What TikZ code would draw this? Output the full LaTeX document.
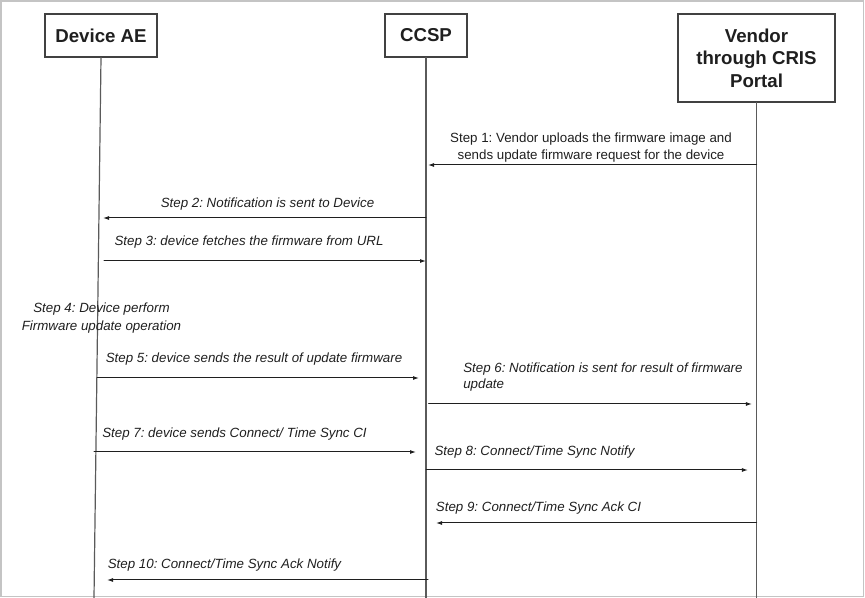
\documentclass[tikz,border=0pt]{standalone}
\usepackage{fontspec}
\setmainfont{Liberation Sans}
\usetikzlibrary{arrows.meta}
\definecolor{FrameGray}{HTML}{C4C4C4}
\definecolor{LineGray}{HTML}{5A5A5A}
\definecolor{InkBlack}{HTML}{1F1F1F}
\frenchspacing

\begin{document}
\begin{tikzpicture}[x=0.75pt,y=-0.75pt,line cap=round,
  actor/.style={draw=InkBlack!85,line width=0.8pt,fill=white,text=InkBlack,font=\bfseries\fontsize{14}{17}\selectfont,align=center,inner sep=0pt},
  life/.style={LineGray,line width=0.9pt},
  msg/.style={InkBlack,line width=0.75pt,-{Latex[length=4.5pt,width=3pt]}},
  steptext/.style={text=InkBlack,font=\itshape\fontsize{10}{12.75}\selectfont,inner sep=0pt}]
  \useasboundingbox (0,0) rectangle (865,598);
  \draw[FrameGray,line width=0.9pt] (1,1) rectangle (863.5,596.5);
  % participants and lifelines
  \node[actor,minimum width=84pt,minimum height=32.25pt] (dev) at (101,35.5) {Device AE};
  \node[actor,minimum width=61.5pt,minimum height=32.25pt] (ccsp) at (426,35.5) {CCSP};
  \node[actor,minimum width=117.75pt,minimum height=66pt] (ven) at (756.5,58) {Vendor\\through CRIS\\Portal};
  \coordinate (devend) at (94,598); \coordinate (ccspend) at (426,598); \coordinate (venend) at (756.5,598);
  \draw[life] (dev.south) -- (devend); \draw[life] (ccsp.south) -- (ccspend); \draw[life] (ven.south) -- (venend);
  % messages
  \node[steptext,font=\upshape\fontsize{10}{12.75}\selectfont,align=center] (s1) at (591,147.5) {Step 1: Vendor uploads the firmware image and\\sends update firmware request for the device};
  \draw[msg] (ven.south |- 0,165) -- ([xshift=1.5pt]ccsp.south |- 0,165);
  \node[steptext] (s2) at (267.5,204) {Step 2: Notification is sent to Device};
  \draw[msg] (ccsp.south |- 0,218) -- ([xshift=1.5pt]dev.south |- 0,218);
  \node[steptext] (s3) at (249,242) {Step 3: device fetches the firmware from URL};
  \draw[msg] ([xshift=2.25pt]dev.south |- 0,261) -- (ccsp.south |- 0,261);
  \node[steptext,align=center,font=\itshape\fontsize{10}{13.5}\selectfont] (s4) at (101.5,318) {Step 4: Device perform\\Firmware update operation};
  \node[steptext] (s5) at (254,359) {Step 5: device sends the result of update firmware};
  \draw[msg] ([xshift=-3pt]dev.south |- 0,378) -- ([xshift=-5.25pt]ccsp.south |- 0,378);
  \node[steptext,anchor=west,align=left,font=\itshape\fontsize{10}{12}\selectfont] (s6) at (463,377) {Step 6: Notification is sent for result of firmware\\update};
  \draw[msg] ([xshift=2pt]ccsp.south |- 0,404) -- ([xshift=-3.4pt]ven.south |- 0,404);
  \node[steptext] (s7) at (234.5,434) {Step 7: device sends Connect/ Time Sync CI};
  \draw[msg] ([xshift=-5.25pt]dev.south |- 0,452) -- ([xshift=-7.5pt]ccsp.south |- 0,452);
  \node[steptext] (s8) at (534.5,452) {Step 8: Connect/Time Sync Notify};
  \draw[msg] (ccsp.south |- 0,470) -- ([xshift=-6.4pt]ven.south |- 0,470);
  \node[steptext] (s9) at (538.5,508) {Step 9: Connect/Time Sync Ack CI};
  \draw[msg] (ven.south |- 0,523) -- ([xshift=7.5pt]ccsp.south |- 0,523);
  \node[steptext] (s10) at (224.5,565) {Step 10: Connect/Time Sync Ack Notify};
  \draw[msg] ([xshift=1.5pt]ccsp.south |- 0,580) -- ([xshift=4.5pt]dev.south |- 0,580);
\end{tikzpicture}
\end{document}
